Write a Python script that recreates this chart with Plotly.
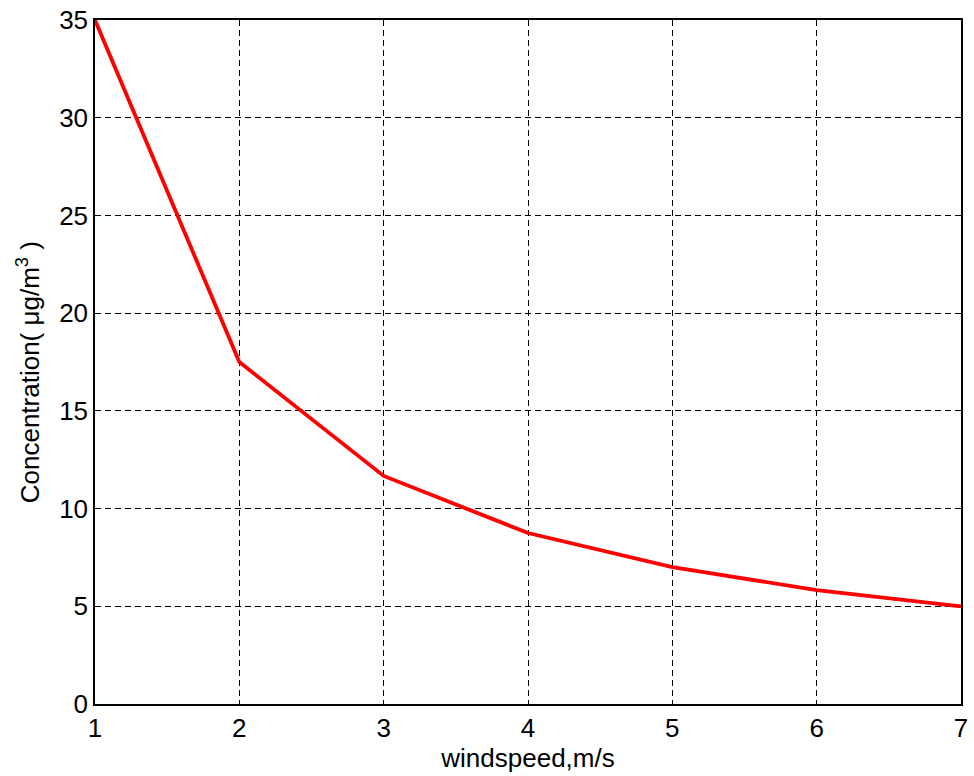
import plotly.graph_objects as go

# Wind speed (m/s) and resulting concentration (µg/m³)
windspeed = [1, 2, 3, 4, 5, 6, 7]
concentration = [35.0, 17.5, 11.67, 8.75, 7.0, 5.83, 5.0]

x_ticks = [1, 2, 3, 4, 5, 6, 7]
y_ticks = [0, 5, 10, 15, 20, 25, 30, 35]

font_family = "Liberation Sans, Arial, sans-serif"
plot_left, plot_right = 95, 13

fig = go.Figure()
fig.add_trace(go.Scatter(
    x=windspeed, y=concentration, mode="lines",
    line=dict(color="#ff0000", width=3.8),
    showlegend=False,
))

axis_common = dict(
    showline=True, linecolor="black", linewidth=1.5, mirror=True,
    showgrid=True, gridcolor="black", gridwidth=1, griddash="6px,4px",
    zeroline=False, ticks="", automargin=False,
    tickfont=dict(size=26, color="black", family=font_family),
)

fig.update_xaxes(
    range=[1, 7], tickvals=x_ticks,
    title=dict(text="windspeed,m/s", font=dict(size=26, color="black", family=font_family), standoff=4),
    **axis_common,
)
fig.update_yaxes(range=[0, 35], tickvals=y_ticks, **axis_common)

# Vertical y-axis label placed as an annotation for finer positioning
plot_width = 974 - plot_left - plot_right
fig.add_annotation(
    text="Concentration( μg/m<sup>3</sup> )",
    textangle=-90, showarrow=False,
    xref="paper", yref="paper",
    x=(28 - plot_left) / plot_width, y=0.485,
    xanchor="center", yanchor="middle",
    font=dict(size=26, color="black", family=font_family),
)

fig.update_layout(
    width=974, height=776,
    margin=dict(l=plot_left, r=plot_right, t=20, b=72),
    paper_bgcolor="white", plot_bgcolor="white",
    font=dict(family=font_family, color="black"),
)

fig.write_html("out.html")
